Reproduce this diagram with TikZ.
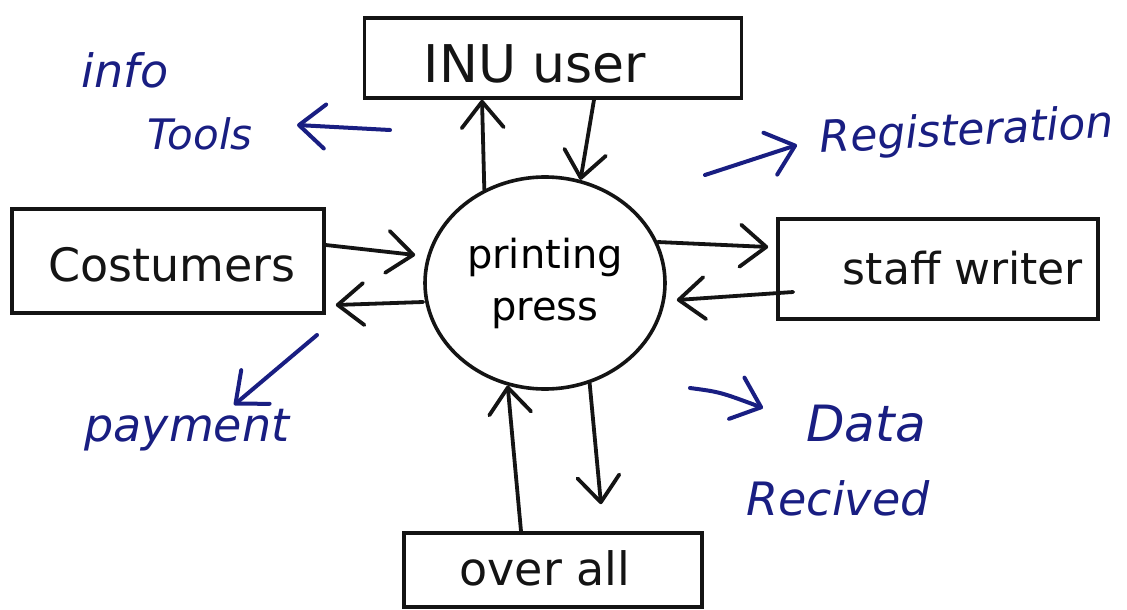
\documentclass[tikz,border=0pt]{standalone}
\usepackage{fontspec}
\setmainfont{DejaVu Sans}
\usetikzlibrary{arrows.meta,shapes.geometric,calc}
\definecolor{ink}{RGB}{20,20,20}
\definecolor{pen}{RGB}{25,30,130}
\begin{document}
\begin{tikzpicture}[x=1pt,y=-1pt,
  box/.style={draw=ink,line width=3.6pt,fill=white,inner sep=0pt},
  txt/.style={text=ink,inner sep=0pt},
  lab/.style={text=pen,inner sep=0pt},
  flow/.style={draw=ink,line width=3.8pt,line cap=round,
    -{Straight Barb[length=26pt,width=42pt,round]}},
  note/.style={draw=pen,line width=4pt,line cap=round,
    -{Straight Barb[length=26pt,width=44pt,round]}}]
\useasboundingbox[fill=white] (0,0) rectangle (1127,610);

% boxes
\node[box,minimum width=377pt,minimum height=80pt] (inu) at (553,58) {};
\node[txt,font=\fontsize{52}{56}\selectfont] (inut) at (535,64) {INU user};
\node[box,minimum width=312pt,minimum height=104pt] (cost) at (168,261) {};
\node[txt,font=\fontsize{46}{50}\selectfont] (costt) at (172,265) {Costumers};
\node[box,minimum width=320pt,minimum height=100pt] (staff) at (938,269) {};
\node[txt,font=\fontsize{44}{48}\selectfont] (stafft) at (963,268) {staff writer};
\node[box,minimum width=298pt,minimum height=74pt] (over) at (553,570) {};
\node[txt,font=\fontsize{46}{50}\selectfont] (overt) at (545,568) {over all};

% process
\node[draw=ink,line width=3.6pt,ellipse,minimum width=240pt,minimum height=212pt,
  inner sep=0pt,align=center,font=\fontsize{40}{52}\selectfont] (press) at (545,283)
  {printing\\press};

% flows
\draw[flow] (press.123) -- ([xshift=-71pt]inu.south);
\draw[flow] ([xshift=41pt]inu.south) -- (press.71);
\draw[flow] ([yshift=16pt]cost.east) -- ([xshift=-8pt,yshift=28pt]press.west);
\draw[flow] ([yshift=-19pt]press.west) -- ([xshift=10pt,yshift=-44pt]cost.east);
\draw[flow] (press.20) -- ([xshift=-8pt,yshift=22pt]staff.west);
\draw[flow] ([xshift=17pt,yshift=-23pt]staff.west) -- ([xshift=10pt,yshift=-17pt]press.east);
\draw[flow] (press.-66) -- ([xshift=48pt,yshift=27pt]over.north);
\draw[flow] ([xshift=-32pt]over.north) -- (press.-110);

% blue notes
\node[lab,font=\fontsize{46}{50}\selectfont\itshape] (info) at (125,70) {info};
\node[lab,font=\fontsize{42}{46}\selectfont\itshape] (tools) at (200,134) {Tools};
\coordinate (i1) at (390,130);
\coordinate (i2) at (297,125);
\draw[note] (i1) -- (i2);

\node[lab,font=\fontsize{44}{48}\selectfont\itshape,rotate=3] (reg) at (967,133) {Registeration};
\coordinate (r1) at (705,175);
\coordinate (r2) at (797,145);
\draw[note] (r1) -- (r2);

\node[lab,font=\fontsize{46}{50}\selectfont\itshape] (pay) at (187,430) {payment};
\coordinate (p1) at (317,335);
\coordinate (p2) at (234,405);
\draw[note] (p1) -- (p2);

\node[lab,font=\fontsize{50}{54}\selectfont\itshape] (data) at (866,424) {Data};
\node[lab,font=\fontsize{46}{50}\selectfont\itshape] (recv) at (838,498) {Recived};
\coordinate (d1) at (690,388);
\coordinate (d2) at (763,408);
\draw[note] (d1) .. controls (720,392) .. (d2);
\end{tikzpicture}
\end{document}
